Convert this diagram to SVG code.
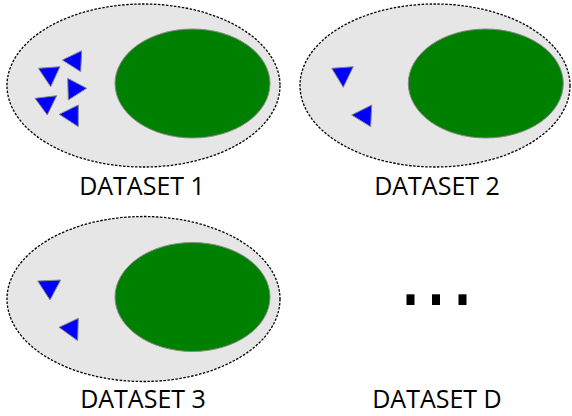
<svg xmlns="http://www.w3.org/2000/svg" width="572" height="416" viewBox="0 0 572 416">
  <style>
    .outer { fill: #e6e6e6; stroke: #000; stroke-width: 1.3; stroke-dasharray: 2.5 1.5; }
    .core { fill: #008000; stroke: #8a8a8a; stroke-width: 1; }
    .tri { fill: #0000ff; stroke: #8a8a8a; stroke-width: 1; stroke-linejoin: round; }
    .label { font-family: "Open Sans", "Noto Sans", sans-serif; font-size: 25px; fill: #000; text-anchor: middle; }
    .dot { fill: #000; }
  </style>
  <rect width="572" height="416" fill="#fff"/>

  <g id="dataset1">
    <ellipse class="outer" cx="143.5" cy="85.5" rx="136.5" ry="81.5"/>
    <ellipse class="core" cx="192.5" cy="83.5" rx="77.5" ry="54.5"/>
    <polygon class="tri" points="38.3,68.3 60,66.7 50.7,86.7"/>
    <polygon class="tri" points="62.3,60 81.7,50.7 80.7,71.7"/>
    <polygon class="tri" points="67.7,78.3 86.7,88.3 68.3,100"/>
    <polygon class="tri" points="35,98.3 56.7,95.7 47.3,115"/>
    <polygon class="tri" points="59.3,114.3 78.3,105 78.3,126.7"/>
    <text class="label" x="142" y="195">DATASET 1</text>
  </g>

  <g id="dataset2">
    <ellipse class="outer" cx="435" cy="85.5" rx="135" ry="81.5"/>
    <ellipse class="core" cx="485.8" cy="83.5" rx="77.5" ry="54.5"/>
    <polygon class="tri" points="331.7,68.3 353.3,66.7 343.3,87.3"/>
    <polygon class="tri" points="351.7,115 371.7,105 370.7,126.7"/>
    <text class="label" x="437" y="195">DATASET 2</text>
  </g>

  <g id="dataset3">
    <ellipse class="outer" cx="143.5" cy="299" rx="136.5" ry="82.5"/>
    <ellipse class="core" cx="192.5" cy="297" rx="77.5" ry="54.5"/>
    <polygon class="tri" points="37.7,281 60.7,280 50,300"/>
    <polygon class="tri" points="59,327.3 78.3,318.3 77.7,340.7"/>
    <text class="label" x="143" y="408">DATASET 3</text>
  </g>

  <g id="datasetD">
    <rect class="dot" x="406.5" y="294.3" width="8" height="10.7"/>
    <rect class="dot" x="432" y="294.3" width="8" height="10.7"/>
    <rect class="dot" x="458.5" y="294.3" width="8" height="10.7"/>
    <text class="label" x="437" y="408">DATASET D</text>
  </g>

  <g id="connectors"/>
</svg>
